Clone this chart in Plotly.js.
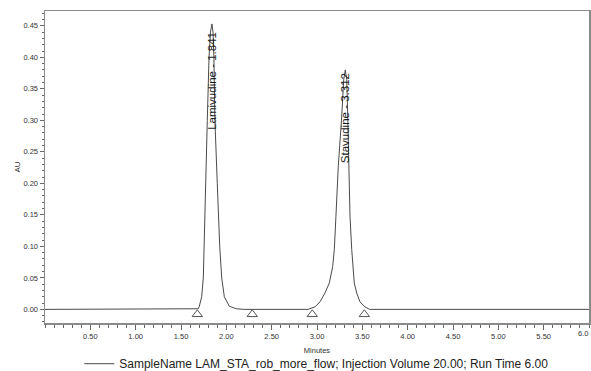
<!DOCTYPE html>
<html>
<head>
<meta charset="utf-8">
<script src="https://cdn.plot.ly/plotly-3.0.1.min.js"></script>
<style>html,body{margin:0;padding:0;background:#fff;}#chart{width:591px;height:371px;}</style>
</head>
<body>
<div id="chart"></div>
<script>
// Chromatogram trace (minutes, AU)
const timeMin = [0.00, 1.40, 1.60, 1.66, 1.69, 1.702, 1.728, 1.746, 1.754, 1.768, 1.790, 1.809, 1.825, 1.841,
  1.853, 1.863, 1.874, 1.900, 1.927, 1.949, 1.978, 2.033, 2.11, 2.20,
  2.90, 2.978, 3.033, 3.088, 3.136, 3.173, 3.191, 3.209, 3.235, 3.270, 3.295, 3.312,
  3.328, 3.340, 3.353, 3.364, 3.383, 3.394, 3.411, 3.438, 3.474, 3.529, 3.58, 6.00];
const absAU = [0.000, 0.000, 0.000, 0.0005, 0.001, 0.005, 0.020, 0.050, 0.100, 0.200, 0.300, 0.400, 0.440, 0.453,
  0.440, 0.400, 0.300, 0.200, 0.100, 0.050, 0.020, 0.005, 0.001, 0.000,
  0.000, 0.004, 0.012, 0.026, 0.042, 0.068, 0.095, 0.148, 0.228, 0.300, 0.365, 0.380,
  0.365, 0.300, 0.228, 0.148, 0.095, 0.068, 0.042, 0.026, 0.012, 0.004, 0.000, 0.000];

// Peak labels
const peakNames = ["Lamivudine", "Stavudine"];
const peakRT = [1.841, 3.312];
const peakApex = [0.453, 0.380];
const labelShift = [-7, -2];

// Integration start/end markers
const markerTimes = [1.680, 2.286, 2.948, 3.522];
const markerAU = [-0.0078, -0.0078, -0.0078, -0.0078];

// Axis ticks
const xTickVals = [0.5, 1.0, 1.5, 2.0, 2.5, 3.0, 3.5, 4.0, 4.5, 5.0, 5.5];
const xTickText = ["0.50", "1.00", "1.50", "2.00", "2.50", "3.00", "3.50", "4.00", "4.50", "5.00", "5.50"];
const yTickVals = [0.00, 0.05, 0.10, 0.15, 0.20, 0.25, 0.30, 0.35, 0.40, 0.45];
const yTickText = ["0.00", "0.05", "0.10", "0.15", "0.20", "0.25", "0.30", "0.35", "0.40", "0.45"];

const legendText = "SampleName LAM_STA_rob_more_flow; Injection Volume 20.00; Run Time 6.00";

const FONT = "Liberation Sans, Arial, sans-serif";
const axisCol = "#8a8a8a";
const textCol = "#333";

const traces = [
  {
    x: timeMin, y: absAU, type: "scatter", mode: "lines",
    line: {color: "#4a4a4a", width: 1},
    name: legendText, showlegend: true, hoverinfo: "skip"
  },
  {
    x: markerTimes, y: markerAU, type: "scatter", mode: "markers",
    marker: {symbol: "triangle-up-open", size: 9, color: "#555", line: {width: 1, color: "#555"}},
    showlegend: false, hoverinfo: "skip", cliponaxis: false
  }
];

const annotations = peakNames.map((n, i) => ({
  x: peakRT[i], y: peakApex[i], xref: "x", yref: "y", yshift: labelShift[i],
  text: n + " - " + peakRT[i].toFixed(3),
  textangle: -90, showarrow: false, xanchor: "center", yanchor: "top",
  font: {family: FONT, size: 11.5, color: "#1a1a1a"}, borderpad: 0
}));
annotations.push({
  x: 6.0, y: 0, xref: "x", yref: "paper", text: "6.0", showarrow: false,
  xanchor: "right", yanchor: "top", yshift: -5,
  font: {family: FONT, size: 7.5, color: textCol}, borderpad: 0
});

const layout = {
  width: 591, height: 371,
  margin: {l: 45, r: 2, t: 11, b: 48, pad: 0, autoexpand: false},
  paper_bgcolor: "#fff", plot_bgcolor: "#fff",
  font: {family: FONT, color: textCol},
  showlegend: true,
  legend: {
    x: 0.063, y: -0.084, xanchor: "left", yanchor: "top",
    orientation: "h", font: {family: FONT, size: 12, color: "#222"},
    bgcolor: "rgba(0,0,0,0)", borderwidth: 0
  },
  xaxis: {
    range: [0, 6], showgrid: false, zeroline: false, automargin: false,
    showline: true, linecolor: axisCol, linewidth: 1.5, mirror: true,
    tickmode: "array", tickvals: xTickVals, ticktext: xTickText,
    ticks: "outside", ticklen: 5, tickwidth: 1, tickcolor: "#666",
    tickfont: {family: FONT, size: 7.5, color: textCol},
    minor: {dtick: 0.1, tick0: 0, ticks: "outside", ticklen: 3, tickwidth: 1, tickcolor: "#666", showgrid: false},
    title: {text: "Minutes", font: {family: FONT, size: 7.5, color: textCol}, standoff: 8}
  },
  yaxis: {
    range: [-0.0216, 0.4735], showgrid: false, zeroline: false, automargin: false,
    showline: true, linecolor: axisCol, linewidth: 1.5, mirror: true,
    tickmode: "array", tickvals: yTickVals, ticktext: yTickText,
    ticks: "outside", ticklen: 4, tickwidth: 1, tickcolor: "#666",
    tickfont: {family: FONT, size: 7.5, color: textCol},
    minor: {dtick: 0.01, tick0: 0, ticks: "outside", ticklen: 2, tickwidth: 1, tickcolor: "#666", showgrid: false},
    title: {text: "AU", font: {family: FONT, size: 8, color: textCol}, standoff: 1}
  },
  annotations: annotations
};

Plotly.newPlot("chart", traces, layout, {staticPlot: true, displayModeBar: false});
</script>
</body>
</html>
